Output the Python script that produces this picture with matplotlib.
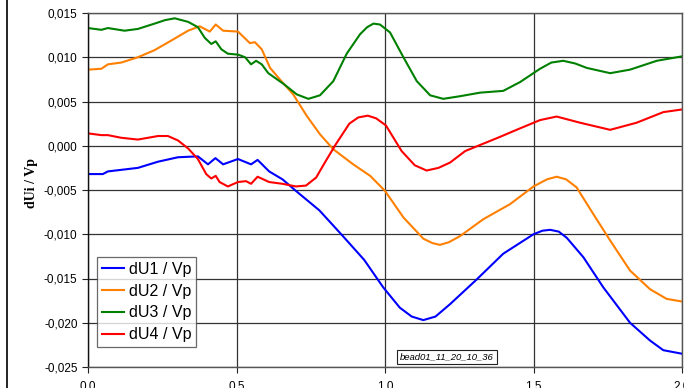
import matplotlib.pyplot as plt
from matplotlib.lines import Line2D
from matplotlib.ticker import FuncFormatter

# values
x_u1 = [0.0, 0.05, 0.067, 0.168, 0.236, 0.303, 0.37, 0.404, 0.429, 0.455, 0.505,
        0.549, 0.571, 0.61, 0.655, 0.70, 0.779, 0.858, 0.93, 0.994, 1.05, 1.09, 1.129,
        1.17, 1.219, 1.309, 1.398, 1.5, 1.53, 1.556, 1.585, 1.612, 1.668, 1.735, 1.825,
        1.892, 1.937, 2.0]
u1 = [-0.0032, -0.0032, -0.0029, -0.0025, -0.0018, -0.0013, -0.0012, -0.0021, -0.0014,
      -0.0021, -0.0015, -0.0021, -0.0016, -0.0029, -0.0038, -0.0051, -0.0073, -0.0102,
      -0.0129, -0.0160, -0.0183, -0.0193, -0.0197, -0.0193, -0.0179, -0.0151, -0.0122,
      -0.0100, -0.0096, -0.0095, -0.0097, -0.0104, -0.0126, -0.0160, -0.0200, -0.0220,
      -0.0231, -0.0235]

x_u2 = [0.0, 0.045, 0.067, 0.112, 0.168, 0.224, 0.281, 0.337, 0.376, 0.41, 0.43, 0.455,
        0.505, 0.545, 0.562, 0.585, 0.613, 0.646, 0.691, 0.736, 0.781, 0.826, 0.893,
        0.95, 1.0, 1.062, 1.129, 1.16, 1.185, 1.215, 1.253, 1.331, 1.421, 1.5, 1.545,
        1.578, 1.61, 1.645, 1.701, 1.758, 1.825, 1.892, 1.948, 2.0]
u2 = [0.0086, 0.0087, 0.0092, 0.0094, 0.0100, 0.0108, 0.0119, 0.0130, 0.0135, 0.0129,
      0.0137, 0.0130, 0.0129, 0.0116, 0.0117, 0.0109, 0.0088, 0.0075, 0.0058, 0.0034,
      0.0013, -0.0004, -0.0021, -0.0034, -0.0051, -0.0081, -0.0105, -0.0110, -0.0112,
      -0.0109, -0.0102, -0.0083, -0.0066, -0.0046, -0.0038, -0.0035, -0.0038, -0.0047,
      -0.0077, -0.0107, -0.0141, -0.0162, -0.0173, -0.0176]

x_u3 = [0.0, 0.045, 0.067, 0.123, 0.168, 0.224, 0.26, 0.292, 0.337, 0.37, 0.393, 0.415,
        0.43, 0.449, 0.471, 0.505, 0.529, 0.549, 0.566, 0.585, 0.607, 0.658, 0.703,
        0.742, 0.781, 0.826, 0.871, 0.916, 0.94, 0.961, 0.983, 1.017, 1.062, 1.107,
        1.152, 1.196, 1.253, 1.32, 1.398, 1.455, 1.522, 1.56, 1.6, 1.64, 1.679, 1.758,
        1.825, 1.915, 2.0]
u3 = [0.0133, 0.0131, 0.0133, 0.0130, 0.0132, 0.0138, 0.0142, 0.0144, 0.0140, 0.0134,
      0.0122, 0.0115, 0.0118, 0.0109, 0.0104, 0.0103, 0.0100, 0.0092, 0.0096, 0.0092,
      0.0082, 0.0070, 0.0058, 0.0053, 0.0057, 0.0073, 0.0104, 0.0126, 0.0134, 0.0138,
      0.0137, 0.0128, 0.0100, 0.0073, 0.0057, 0.0053, 0.0056, 0.0060, 0.0062, 0.0072,
      0.0087, 0.0094, 0.0096, 0.0093, 0.0088, 0.0082, 0.0086, 0.0096, 0.0101]

x_u4 = [0.0, 0.045, 0.067, 0.112, 0.168, 0.236, 0.269, 0.303, 0.337, 0.37, 0.398, 0.415,
        0.43, 0.443, 0.471, 0.505, 0.532, 0.549, 0.571, 0.61, 0.655, 0.70, 0.734, 0.768,
        0.801, 0.835, 0.88, 0.91, 0.942, 0.97, 1.003, 1.056, 1.1, 1.14, 1.18, 1.219, 1.27,
        1.387, 1.443, 1.522, 1.578, 1.657, 1.758, 1.847, 1.937, 2.0]
u4 = [0.0014, 0.0012, 0.0012, 0.0009, 0.0007, 0.0011, 0.0011, 0.0006, -0.0003, -0.0015,
      -0.0032, -0.0037, -0.0034, -0.0041, -0.0046, -0.0041, -0.0040, -0.0043, -0.0035,
      -0.0041, -0.0043, -0.0046, -0.0045, -0.0036, -0.0017, 0.0002, 0.0025, 0.0032,
      0.0034, 0.0031, 0.0023, -0.0006, -0.0022, -0.0028, -0.0025, -0.0019, -0.0006,
      0.0010, 0.0018, 0.0029, 0.0033, 0.0026, 0.0018, 0.0026, 0.0038, 0.0041]

labels = ['dU1 / Vp', 'dU2 / Vp', 'dU3 / Vp', 'dU4 / Vp']
colors = ['#0000ff', '#ff8000', '#008000', '#ff0000']

plt.rcParams['font.family'] = ['Liberation Sans', 'DejaVu Sans']

fig = plt.figure(figsize=(6.84, 3.88), dpi=100)
ax = fig.add_axes([88 / 684, 1 - 367 / 388, 594 / 684, 354 / 388])

series = [(x_u1, u1), (x_u2, u2), (x_u3, u3), (x_u4, u4)]
for (xs, ys), lab, col in zip(series, labels, colors):
    ax.plot(xs, ys, color=col, lw=1.5, label=lab)

ax.set_xlim(0, 2.0)
ax.set_ylim(-0.025, 0.015)
ax.set_xticks([0.0, 0.5, 1.0, 1.5, 2.0])
ax.set_yticks([-0.025, -0.02, -0.015, -0.01, -0.005, 0.0, 0.005, 0.01, 0.015])
ax.xaxis.set_major_formatter(FuncFormatter(lambda v, p: f'{v:.1f}'.replace('.', ',')))
ax.yaxis.set_major_formatter(FuncFormatter(lambda v, p: f'{v:.3f}'.replace('.', ',').replace('-0,000', '0,000')))
ax.tick_params(labelsize=8.5, length=4, width=0.8, color='#222222', direction='out')
ax.tick_params(axis='x', pad=6)
ax.grid(True, color='#333333', lw=0.9)
ax.set_axisbelow(True)
for s in ax.spines.values():
    s.set_color('#555555')
    s.set_linewidth(1.0)
ax.spines['left'].set_color('#111111')

ax.set_ylabel('dUi / Vp', family=['Liberation Serif', 'DejaVu Serif'], fontweight='bold',
              fontsize=10)
ax.yaxis.set_label_coords(-50 / 594, 0.52)

leg = ax.legend(loc='lower left', bbox_to_anchor=(9 / 594, 20 / 354), fontsize=11.5,
                frameon=True, fancybox=False, handlelength=1.4, handletextpad=0.3,
                borderpad=0.3, labelspacing=0.42, borderaxespad=0)
leg.get_frame().set_edgecolor('#444444')
leg.get_frame().set_linewidth(0.9)

ax.text(447 / 594 * 2.0 - 88 / 594 * 2.0, -0.025 + (367 - 357) / 8850, 'bead01_11_20_10_36',
        fontsize=6.8, style='italic', ha='center', va='center',
        bbox=dict(boxstyle='square,pad=0.3', fc='white', ec='#222222', lw=0.8))

fig.add_artist(Line2D([7 / 684, 7 / 684], [0, 1], color='black', lw=1.2,
                      transform=fig.transFigure))

fig.savefig('out.png', dpi=100)
